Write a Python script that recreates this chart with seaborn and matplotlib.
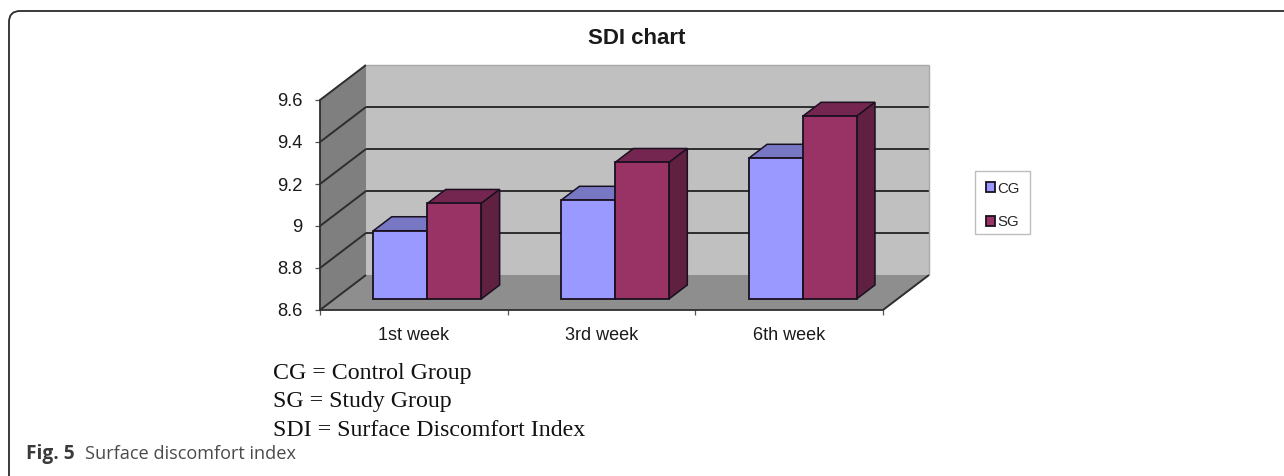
import pandas as pd
import numpy as np
import matplotlib.pyplot as plt
import seaborn as sns
from matplotlib.patches import Polygon, FancyBboxPatch, Rectangle
from matplotlib.transforms import IdentityTransform

##Data
weeks = ["1st week", "3rd week", "6th week"]
cg_values = [8.925, 9.07, 9.27]
sg_values = [9.055, 9.25, 9.47]
groups = ["CG", "SG"]
y_ticks = [8.6, 8.8, 9.0, 9.2, 9.4, 9.6]
y_labels = ["8.6", "8.8", "9", "9.2", "9.4", "9.6"]
notes = ["CG = Control Group", "SG = Study Group", "SDI = Surface Discomfort Index"]

W, H = 1284, 476

sns.set_theme(style="white")
plt.rcParams["font.family"] = ["Liberation Sans", "DejaVu Sans"]

df = pd.DataFrame({
    "week": weeks * 2,
    "group": ["CG"] * 3 + ["SG"] * 3,
    "sdi": cg_values + sg_values,
})

fig = plt.figure(figsize=(W / 100, H / 100), dpi=100)
ax = fig.add_axes([320 / W, 1 - 310 / H, 563 / W, 210 / H])
ax.patch.set_alpha(0)

##Depth of the fake 3d box, in data units
dx = 46 / 563 * 3
dy = 35 / 210 * 1
y0, y1 = y_ticks[0], y_ticks[-1]
x0, x1 = -0.5, 2.5


def proj(x, y, d):
    return (x + d * dx, y + d * dy)


def face(pts, color, z, edge="none", lw=0.0):
    ax.add_patch(Polygon([proj(*p) for p in pts], closed=True, facecolor=color,
                         edgecolor=edge, linewidth=lw, zorder=z, clip_on=False))


def line(p, q, color="#2e2e2e", lw=1.4, z=1.5):
    a, b = proj(*p), proj(*q)
    ax.plot([a[0], b[0]], [a[1], b[1]], color=color, lw=lw, zorder=z,
            clip_on=False, solid_capstyle="butt")


sns.barplot(data=df, x="week", y="sdi", hue="group", hue_order=groups,
            palette=["#9999FF", "#993366"], width=0.575, gap=0, ax=ax,
            edgecolor="#1a1020", linewidth=1.3, zorder=4, saturation=1)

##Walls and floor
face([(x0, y0, 1), (x1, y0, 1), (x1, y1, 1), (x0, y1, 1)], "#C0C0C0", 0.5)
face([(x0, y0, 0), (x0, y1, 0), (x0, y1, 1), (x0, y0, 1)], "#7F7F7F", 0.6)
face([(x0, y0, 0), (x1, y0, 0), (x1, y0, 1), (x0, y0, 1)], "#8E8E8E", 0.7)

for t in y_ticks:
    line((x0, t, 0), (x0, t, 1))
    if y0 < t < y1:
        line((x0, t, 1), (x1, t, 1))
line((x0, y1, 1), (x1, y1, 1), color="#a8a8a8", lw=1.0)
line((x1, y0, 1), (x1, y1, 1), color="#a8a8a8", lw=1.0)
line((x1, y0, 0), (x1, y0, 1))

##Push the bars back onto the floor and give them a top and a side
near = 11 / 35
far = near + 14 / 35
nudge = -1 / 563 * 3
shades = {"CG": ("#7777C4", "#5F5F9C"), "SG": ("#752650", "#5F213F")}
bars = [(g, p) for g, c in zip(groups, ax.containers) for p in c]
for g, p in bars:
    top = p.get_height()
    left = p.get_x() + nudge
    right = left + p.get_width()
    p.set_x(left + near * dx)
    p.set_y(y0 + near * dy)
    p.set_height(top - y0)
    p.set_clip_on(False)
    top_col, side_col = shades[g]
    edge = "#1a1020"
    face([(left, top, near), (right, top, near), (right, top, far), (left, top, far)],
         top_col, 3, edge, 1.1)
    face([(right, y0, near), (right, top, near), (right, top, far), (right, y0, far)],
         side_col, 3, edge, 1.1)

ax.set_xlim(x0, x1)
ax.set_ylim(y0, y1)
ax.set_xlabel("")
ax.set_ylabel("")
ax.set_yticks(y_ticks)
ax.set_yticklabels(y_labels)
ax.set_xticks([0, 1, 2])
ax.set_xticklabels(weeks)
ax.set_xticks([-0.5, 0.5, 1.5, 2.5], minor=True)
ax.tick_params(axis="x", which="major", length=0, pad=12.5, labelsize=13, colors="#1a1a1a")
ax.tick_params(axis="x", which="minor", length=3.5, width=0.9, color="#555555", bottom=True)
ax.tick_params(axis="y", length=3.5, width=0.9, color="#555555", left=True, pad=9,
               labelsize=13.2, labelcolor="#1a1a1a")
sns.despine(ax=ax, top=True, right=True)
for s in ["left", "bottom"]:
    ax.spines[s].set_color("#2e2e2e")
    ax.spines[s].set_linewidth(1.3)
    ax.spines[s].set_zorder(2)

##Legend without its own frame, the box in the original sits high on the entries
sns.move_legend(ax, "center", bbox_to_anchor=(1002.5 / W, 1 - 205.5 / H),
                bbox_transform=fig.transFigure, title=None, frameon=False, fontsize=10.8,
                handlelength=0.62, handleheight=0.62, handletextpad=0.15, labelspacing=1.32,
                borderpad=0.72, borderaxespad=0)
fig.add_artist(Rectangle((975, H - 234), 55, 63, transform=IdentityTransform(),
                         facecolor="none", edgecolor="#bdbdbd", linewidth=1.0))

fig.text(637 / W, 1 - 38.5 / H, "SDI chart", fontsize=16, fontweight="bold",
         ha="center", va="center", color="#1a1a1a")

##Footnotes under the chart, baselines picked by eye
for txt, yp in zip(notes, [379.5, 407.5, 435.5]):
    fig.text(273 / W, 1 - yp / H, txt, fontsize=17.2, family="Liberation Serif",
             ha="left", va="baseline", color="#111111")

fig.text(25.5 / W, 1 - 459 / H, "Fig. 5", fontsize=13.8, fontweight="bold",
         family="Open Sans", color="#3a3a3a", ha="left", va="baseline")
fig.text(85 / W, 1 - 459 / H, "Surface discomfort index", fontsize=13.1,
         family="Open Sans", color="#4a4a4a", ha="left", va="baseline")

##Rounded journal frame, runs off the right and bottom of the page
frame = FancyBboxPatch((9, -40), W + 60, H - 11 + 40,
                       boxstyle="round,pad=0,rounding_size=11", transform=IdentityTransform(),
                       facecolor="none", edgecolor="#2b2b2b", linewidth=1.3)
fig.add_artist(frame)

fig.savefig("out.png", dpi=100)
